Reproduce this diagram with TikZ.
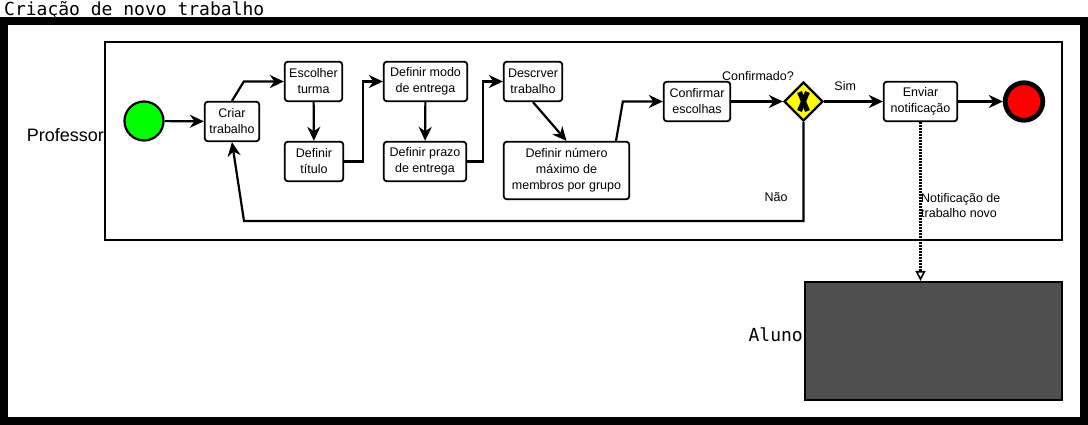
\documentclass[tikz,border=0pt]{standalone}
\usepackage{fontspec}
\setmainfont{Liberation Sans}
\newfontfamily\lanemono{DejaVu Sans Mono}
\usetikzlibrary{shapes.geometric, arrows.meta}

\definecolor{startgreen}{HTML}{00FF00}
\definecolor{endred}{HTML}{FF0000}
\definecolor{gwyellow}{HTML}{FFFF00}
\definecolor{lanegray}{HTML}{4F4F4F}

\begin{document}
\begin{tikzpicture}[x=1pt, y=-1pt,
    task/.style={draw, line width=1.8pt, rounded corners=3pt, fill=white, align=center,
        inner sep=0pt, minimum height=39.5pt, font=\fontsize{12.5}{16}\selectfont},
    flow/.style={line width=2.2pt, -{Stealth[length=14pt, width=13pt, inset=4.5pt]}},
    msg/.style={line width=2.2pt, dash pattern=on 1.5pt off 1.5pt,
        -{Triangle[open, length=10pt, width=10pt, line width=1.6pt]}},
    lbl/.style={inner sep=0pt, font=\fontsize{12.5}{15}\selectfont},
    lane/.style={draw, line width=2.2pt, inner sep=0pt}]
    \useasboundingbox (0,0) rectangle (1088,425);

    % Pool
    \node[anchor=base west, inner sep=0pt, font=\lanemono\fontsize{18}{18}\selectfont] (title) at (4,16) {Criação de novo trabalho};
    \draw[line width=8pt] (4,21) rectangle (1084,421);

    % Lanes
    \node[lane, minimum width=957pt, minimum height=198pt] (professor) at (583.5,141) {};
    \node[lane, fill=lanegray, minimum width=257pt, minimum height=118pt] (aluno) at (933.5,341) {};
    \node[anchor=east, inner sep=0pt, font=\fontsize{18}{18}\selectfont] (lblprof) at (104,135) {Professor};
    \node[anchor=east, inner sep=0pt, font=\lanemono\fontsize{18}{18}\selectfont] (lblaluno) at (803,335) {Aluno};

    % Events
    \node[circle, draw, line width=2.2pt, fill=startgreen, minimum size=39pt] (start) at (144,121) {};
    \node[circle, draw, line width=4.8pt, fill=endred, minimum size=37.5pt] (end) at (1024,101.5) {};

    % Tasks
    \node[task, minimum width=54.5pt] (criar) at (232,121.5) {Criar\\trabalho};
    \node[task, minimum width=57.5pt] (escolher) at (313.5,81.5) {Escolher\\turma};
    \node[task, minimum width=58.5pt] (titulo) at (314,161.5) {Definir\\título};
    \node[task, minimum width=83.5pt] (modo) at (425.5,81.5) {Definir modo\\de entrega};
    \node[task, minimum width=82.5pt] (prazo) at (425,161.5) {Definir prazo\\de entrega};
    \node[task, minimum width=58.5pt] (descrever) at (533,81.5) {Descrver\\trabalho};
    \node[task, minimum width=125.5pt, minimum height=57.5pt] (numero) at (566.5,170.5) {Definir número\\máximo de\\membros por grupo};
    \node[task, minimum width=66.5pt] (confirmar) at (697,101.5) {Confirmar\\escolhas};
    \node[task, minimum width=73.5pt] (enviar) at (920.5,101.5) {Enviar\\notificação};

    % Gateway
    \node[diamond, draw, line width=2.2pt, fill=gwyellow, minimum size=39pt, inner sep=0pt] (gw) at (803.5,101.5) {};
    \draw[line width=5pt] ([shift={(-4,-9.5)}]gw.center) -- ([shift={(4,9.5)}]gw.center);
    \draw[line width=5pt] ([shift={(4,-9.5)}]gw.center) -- ([shift={(-4,9.5)}]gw.center);
    \node[lbl] (lblconf) at (758,76) {Confirmado?};
    \node[lbl] (lblnao) at (776,197) {Não};

    % Sequence flows
    \draw[flow] (start) -- (criar);
    \draw[flow] (criar.north) -- ([xshift=-40pt]escolher.west) -- (escolher.west);
    \draw[flow] (escolher) -- (titulo);
    \draw[flow] (titulo.east) -- ++(19,0) |- (modo.west);
    \draw[flow] (modo) -- (prazo);
    \draw[flow] (prazo.east) -- ++(16,0) |- (descrever.west);
    \draw[flow] (descrever.south) -- (numero.north);
    \draw[flow] ([xshift=49.5pt]numero.north) -- ([xshift=-40pt]confirmar.west) -- (confirmar.west);
    \draw[flow] (confirmar) -- (gw);
    \draw[flow] (gw) -- (enviar) node[lbl, above=10pt, pos=0.36] (lblsim) {Sim};
    \draw[flow] (enviar) -- (end);

    \coordinate (back) at (244,221);
    \draw[flow] (gw.south) |- (back) -- (criar.south);

    % Message flow
    \draw[msg] (enviar.south) -- (enviar.south |- aluno.north);
    \node[lbl, anchor=west, align=left] (lblnotif) at (921,205.5) {Notificação de\\trabalho novo};
\end{tikzpicture}
\end{document}
